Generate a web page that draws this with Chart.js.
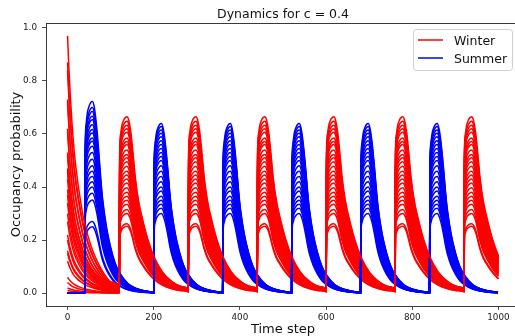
<!DOCTYPE html>
<html>
<head>
<meta charset="utf-8">
<script src="https://cdn.jsdelivr.net/npm/chart.js@4.4.0/dist/chart.umd.min.js"></script>
<style>
  html, body { margin: 0; padding: 0; background: #fff; overflow: hidden; }
  #wrap { width: 515px; height: 336px; overflow: hidden; }
</style>
</head>
<body>
<div id="wrap"><canvas id="chart" width="522" height="336"></canvas></div>
<script>
  "use strict";

  // Axis ticks
  var timeMax = 1000;
  var xTicks = [0, 200, 400, 600, 800, 1000];
  var yTicks = [0.0, 0.2, 0.4, 0.6, 0.8, 1.0];

  // Season switches (time step where each pulse starts)
  var winterStarts = [120, 280, 440, 600, 760, 920];
  var summerStarts = [40, 200, 360, 520, 680, 840];

  // Winter curves: value at t = 0, then peak of every later pulse
  var winterStart0 = [0.97, 0.87, 0.84, 0.73, 0.72, 0.62, 0.61, 0.53, 0.52, 0.47, 0.46, 0.43, 0.39,
                      0.37, 0.34, 0.30, 0.27, 0.22, 0.20, 0.16, 0.15, 0.12, 0.06, 0.04, 0.02, 0.01];
  var winterPeaks = [0.665, 0.648, 0.633, 0.62, 0.607, 0.585, 0.572, 0.56, 0.54, 0.523, 0.51, 0.495, 0.478,
                     0.46, 0.445, 0.43, 0.415, 0.397, 0.38, 0.365, 0.35, 0.335, 0.315, 0.30, 0.262, 0.252];

  // Summer curves: peak of the first pulse (t = 40) and of the later ones
  var summerPeaks0 = [0.723, 0.70, 0.685, 0.667, 0.654, 0.635, 0.617, 0.604, 0.585, 0.573, 0.554,
                      0.53, 0.505, 0.48, 0.46, 0.44, 0.42, 0.40, 0.377, 0.351, 0.27, 0.25];
  var summerPeaks = [0.64, 0.628, 0.615, 0.603, 0.59, 0.575, 0.56, 0.545, 0.53, 0.515, 0.50,
                     0.48, 0.46, 0.44, 0.42, 0.40, 0.385, 0.365, 0.35, 0.335, 0.32, 0.30];

  // Pulse shapes (share of the curve's peak, by steps after the switch)
  var decayOffsets = [0, 3, 6, 10, 15, 20, 30, 40, 55, 70, 85, 100, 119];
  var decayShape   = [1, 0.88, 0.78, 0.67, 0.56, 0.48, 0.36, 0.27, 0.18, 0.12, 0.075, 0.045, 0.025];
  var winterOffsets = [0, 1, 3, 6, 10, 14, 18, 22, 27, 32, 37, 45, 55, 67, 80, 100, 120, 140, 159];
  var winterShape   = [0.02, 0.8, 0.9, 0.95, 0.98, 0.995, 1.0, 0.98, 0.91, 0.79, 0.66, 0.52, 0.41, 0.3, 0.21, 0.12, 0.07, 0.04, 0.025];
  var summerOffsets = [0, 1, 3, 6, 10, 14, 18, 22, 27, 32, 37, 41, 50, 60, 70, 80, 100, 120, 140, 159];
  var summerShape   = [0.005, 0.75, 0.88, 0.94, 0.975, 0.995, 1.0, 0.97, 0.88, 0.75, 0.6, 0.5, 0.35, 0.24, 0.16, 0.11, 0.05, 0.024, 0.011, 0.005];

  var RED = "#ff0000";
  var BLUE = "#0000ff";

  function addPulse(pts, start, peak, offsets, shape) {
    for (var k = 0; k < offsets.length; k++) {
      var t = start + offsets[k];
      if (t > timeMax) break;
      pts.push({ x: t, y: peak * shape[k] });
    }
  }

  function winterCurve(i) {
    var pts = [];
    addPulse(pts, 0, winterStart0[i], decayOffsets, decayShape);
    winterStarts.forEach(function (s) { addPulse(pts, s, winterPeaks[i], winterOffsets, winterShape); });
    return pts;
  }

  function summerCurve(i) {
    var pts = [{ x: 0, y: 0 }, { x: 20, y: 0 }];
    summerStarts.forEach(function (s, c) {
      addPulse(pts, s, c === 0 ? summerPeaks0[i] : summerPeaks[i], summerOffsets, summerShape);
    });
    return pts;
  }

  var datasets = [];
  var n = Math.max(winterPeaks.length, summerPeaks.length);
  for (var i = 0; i < n; i++) {
    if (i < winterPeaks.length) datasets.push({ label: "Winter", data: winterCurve(i), borderColor: RED });
    if (i < summerPeaks.length) datasets.push({ label: "Summer", data: summerCurve(i), borderColor: BLUE });
  }

  var FONT = "'DejaVu Sans', sans-serif";
  var tickFont = { family: FONT, size: 8.8 };

  // Frame, title and legend drawn the matplotlib way
  var framePlugin = {
    id: "frame",
    afterDraw: function (chart) {
      var c = chart.ctx, a = chart.chartArea;
      c.save();
      c.strokeStyle = "#222";
      c.lineWidth = 0.9;
      c.beginPath();
      c.moveTo(a.left, a.top + 0.5);
      c.lineTo(a.right, a.top + 0.5);
      c.moveTo(a.right - 0.5, a.top);
      c.lineTo(a.right - 0.5, a.bottom);
      c.stroke();

      c.fillStyle = "#111";
      c.font = "12.5px " + FONT;
      c.textAlign = "center";
      c.textBaseline = "alphabetic";
      c.fillText("Dynamics for c = 0.4", (a.left + a.right) / 2, 17.5);

      // legend box
      var bx = 413.5, by = 29.5, bw = 99, bh = 41, r = 3;
      c.beginPath();
      c.moveTo(bx + r, by);
      c.arcTo(bx + bw, by, bx + bw, by + bh, r);
      c.arcTo(bx + bw, by + bh, bx, by + bh, r);
      c.arcTo(bx, by + bh, bx, by, r);
      c.arcTo(bx, by, bx + bw, by, r);
      c.closePath();
      c.fillStyle = "rgba(255,255,255,0.8)";
      c.fill();
      c.strokeStyle = "#d0d0d0";
      c.lineWidth = 1;
      c.stroke();

      var items = [["Winter", RED, 40], ["Summer", BLUE, 58]];
      c.textAlign = "left";
      items.forEach(function (it) {
        c.strokeStyle = it[1];
        c.lineWidth = 1.5;
        c.beginPath();
        c.moveTo(418, it[2]);
        c.lineTo(443, it[2]);
        c.stroke();
        c.fillStyle = "#111";
        c.font = "12.5px " + FONT;
        c.fillText(it[0], 454, it[2] + 4.5);
      });
      c.restore();
    }
  };

  var ctx = document.getElementById("chart").getContext("2d");
  var myChart = new Chart(ctx, {
    type: "line",
    data: { datasets: datasets },
    options: {
      responsive: false,
      animation: false,
      events: [],
      layout: { padding: { top: 23, right: 2, left: 0, bottom: 0 } },
      elements: {
        point: { radius: 0 },
        line: { borderWidth: 1.5, cubicInterpolationMode: "monotone", fill: false }
      },
      plugins: {
        legend: { display: false },
        title: { display: false },
        tooltip: { enabled: false }
      },
      scales: {
        x: {
          type: "linear",
          min: -50,
          max: 1050,
          afterBuildTicks: function (axis) { axis.ticks = xTicks.map(function (v) { return { value: v }; }); },
          afterFit: function (axis) { axis.height = 30; },
          ticks: { font: tickFont, color: "#222", padding: 2, maxRotation: 0, callback: function (v) { return String(v); } },
          grid: { drawOnChartArea: false, drawTicks: true, tickLength: 4, color: "#222", lineWidth: 0.8 },
          border: { display: true, color: "#222", width: 0.9 },
          title: { display: true, text: "Time step", color: "#111", padding: 0,
                   font: { family: FONT, size: 13, lineHeight: 1 } }
        },
        y: {
          type: "linear",
          min: -0.0485,
          max: 1.0185,
          afterBuildTicks: function (axis) { axis.ticks = yTicks.map(function (v) { return { value: v }; }); },
          afterFit: function (axis) { axis.width = 46; },
          ticks: { font: tickFont, color: "#222", padding: 5, callback: function (v) { return v.toFixed(1); } },
          grid: { drawOnChartArea: false, drawTicks: true, tickLength: 4, color: "#222", lineWidth: 0.8 },
          border: { display: true, color: "#222", width: 0.9 },
          title: { display: true, text: "Occupancy probability", color: "#111", padding: { top: 10, bottom: 0 },
                   font: { family: FONT, size: 13, lineHeight: 1 } }
        }
      }
    },
    plugins: [framePlugin]
  });
</script>
</body>
</html>
